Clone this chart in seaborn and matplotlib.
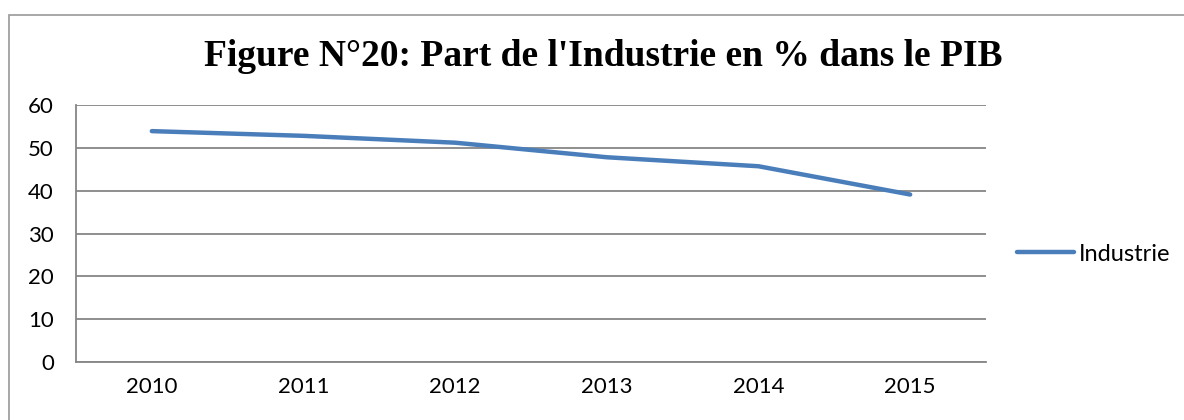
import numpy as np
import pandas as pd
import matplotlib
matplotlib.use('Agg')
import matplotlib.pyplot as plt
from matplotlib.patches import Rectangle
import seaborn as sns

years = ['2010', '2011', '2012', '2013', '2014', '2015']
industrie = [53.9, 52.8, 51.2, 47.8, 45.7, 39.1]
title = "Figure N°20: Part de l'Industrie en % dans le PIB"

sns.set_style('white')
plt.rcParams['font.family'] = ['Lato', 'DejaVu Sans']
plt.rcParams['text.color'] = 'black'
plt.rcParams['xtick.color'] = 'black'
plt.rcParams['ytick.color'] = 'black'

df = pd.DataFrame({'pos': np.arange(len(years)), 'year': years, 'Industrie': industrie})

fig = plt.figure(figsize=(11.84, 4.2), dpi=100)
ax = fig.add_axes([76 / 1184, 58 / 420, 910 / 1184, 257 / 420])
grey = '#868686'

sns.lineplot(data=df, x='pos', y='Industrie', ax=ax, color='#4A7EBB', linewidth=3.2,
             solid_capstyle='round', label='Industrie')

ax.set_xlim(-0.5, len(years) - 0.5)
ax.set_ylim(0, 60)
ax.set_yticks(range(0, 61, 10))
ax.yaxis.grid(True, color=grey, linewidth=1.3)
ax.set_axisbelow(True)
ax.set_xticks(np.arange(-0.5, len(years), 1.0))
ax.set_xticklabels([])
ax.set_xticks(np.arange(len(years)), minor=True)
ax.set_xticklabels(years, minor=True)
ax.tick_params(axis='x', which='major', length=6, width=1.3, color=grey, direction='out')
ax.tick_params(axis='x', which='minor', length=0, pad=11, labelsize=16)
ax.tick_params(axis='y', length=6, width=1.3, color=grey, direction='out', pad=10, labelsize=16)
ax.set_xlabel('')
ax.set_ylabel('')
for s in ['top', 'right']:
    ax.spines[s].set_visible(False)
for s in ['left', 'bottom']:
    ax.spines[s].set_color(grey)
    ax.spines[s].set_linewidth(1.3)

leg = ax.legend(loc='center left', bbox_to_anchor=(1.024, 0.42), frameon=False, fontsize=17,
                handlelength=2.4, handletextpad=0.2, borderaxespad=0)

fig.text(603 / 1184, 1 - 57 / 420, title, ha='center', va='center', fontsize=27,
         fontweight='bold', family=['Liberation Serif', 'DejaVu Serif'])

fig.patches.append(Rectangle((9 / 1184, -0.1), 1.2, 1.1 - 15 / 420, transform=fig.transFigure,
                             fill=False, edgecolor='#A0A0A0', linewidth=1.3))

fig.savefig('out.png', dpi=100)
